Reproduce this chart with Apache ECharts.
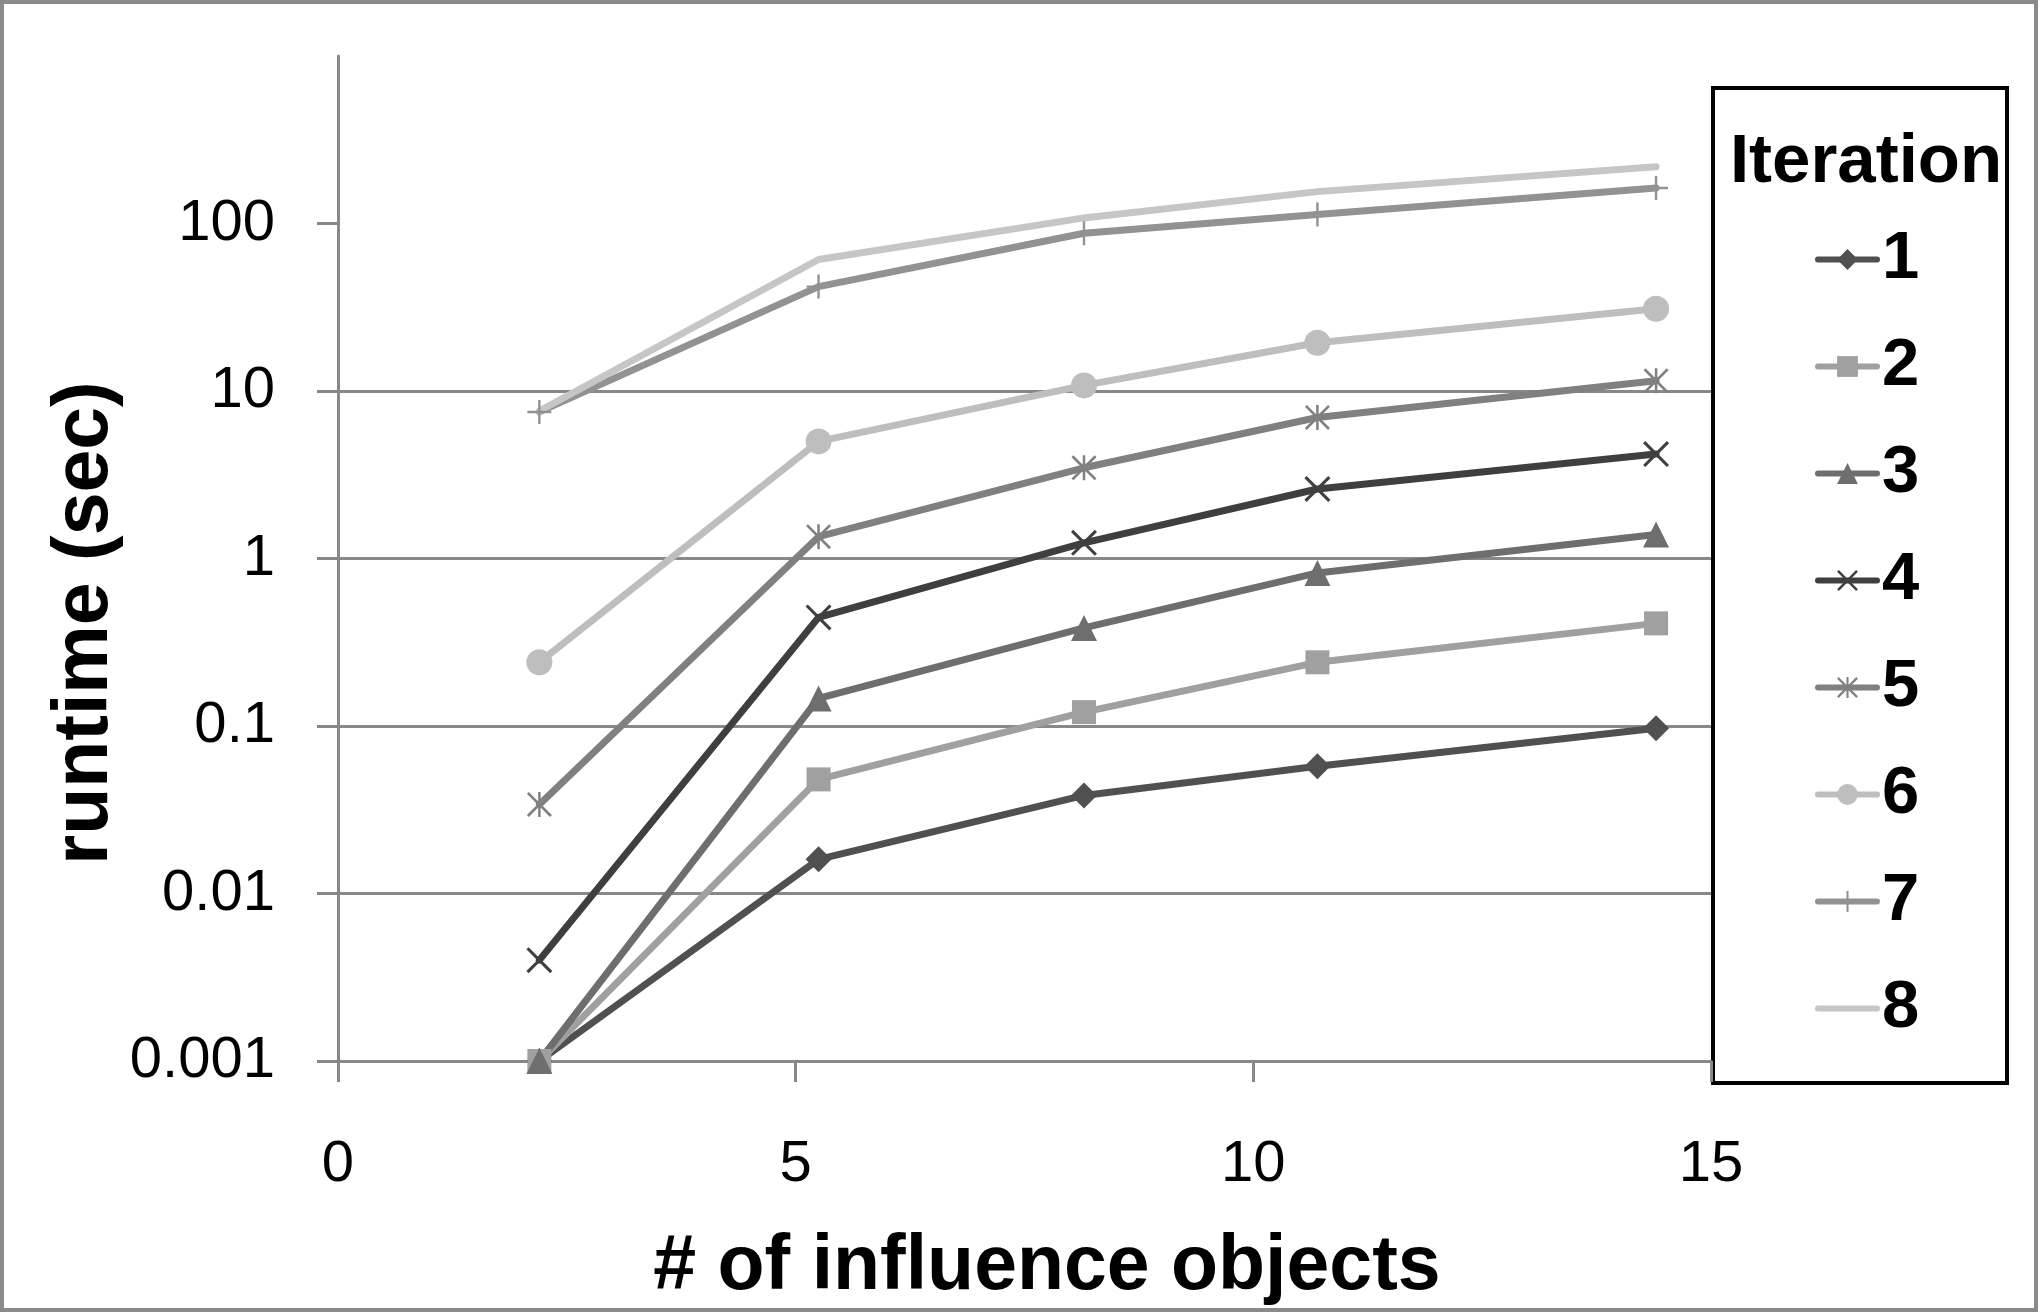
<!DOCTYPE html>
<html>
<head>
<meta charset="utf-8">
<script src="https://cdn.jsdelivr.net/npm/echarts@6/dist/echarts.min.js"></script>
<style>
html,body{margin:0;padding:0;background:#fff;}
#chart{width:2040px;height:1314px;}
</style>
</head>
<body>
<div id="chart"></div>
<script>
// ---- data ----
const xValues = [2.2, 5.25, 8.15, 10.7, 14.4];
const iter1 = [0.001, 0.016, 0.0385, 0.0575, 0.097];
const iter2 = [0.001, 0.048, 0.121, 0.24, 0.41];
const iter3 = [0.001, 0.146, 0.385, 0.82, 1.39];
const iter4 = [0.004, 0.445, 1.24, 2.6, 4.2];
const iter5 = [0.034, 1.35, 3.48, 6.95, 11.5];
const iter6 = [0.24, 5.0, 10.8, 19.4, 31];
const iter7 = [7.5, 42, 87.5, 113, 163];
const iter8 = [7.6, 61, 108, 155, 218];
const seriesNames = ['1', '2', '3', '4', '5', '6', '7', '8'];
const yTickValues = [0.001, 0.01, 0.1, 1, 10, 100];
const xTickValues = [0, 5, 10, 15];
const legendTitle = 'Iteration';
const xTitle = '# of influence objects';
const yTitle = 'runtime (sec)';

// ---- styles ----
const FONT = '"Liberation Sans", Arial, sans-serif';
const GRID_COLOR = '#888888';
const allValues = [iter1, iter2, iter3, iter4, iter5, iter6, iter7, iter8];
const colors = ['#505050', '#a0a0a0', '#6e6e6e', '#3f3f3f', '#808080', '#bebebe', '#929292', '#c6c6c6'];
const crossPath = 'path://M0,1.7 L1.7,0 L20,18.3 L18.3,20 Z M18.3,0 L20,1.7 L1.7,20 L0,18.3 Z';
const starPath = 'path://M0,1.5 L1.5,0 L20,18.5 L18.5,20 Z M18.5,0 L20,1.5 L1.5,20 L0,18.5 Z M9,0 L11,0 L11,20 L9,20 Z';
const plusPath = 'path://M9,0 L11,0 L11,20 L9,20 Z M0,9 L20,9 L20,11 L0,11 Z';
const symbols = ['diamond', 'rect', 'triangle', crossPath, starPath, 'circle', plusPath, 'circle'];
const symbolSizes = [26, 24, 26, 26, 25, 26, 24, 0];

const series = seriesNames.map((name, i) => ({
  name: name,
  type: 'line',
  data: xValues.map((x, j) => [x, allValues[i][j]]),
  symbol: symbols[i],
  symbolSize: symbolSizes[i],
  showSymbol: i !== 7,
  lineStyle: { width: 7, color: colors[i], cap: 'round', join: 'round' },
  itemStyle: { color: colors[i] },
  emphasis: { disabled: true },
  animation: false,
  z: 3
}));

const legendData = seriesNames.map((n, i) => (i === 7 ? { name: n, itemStyle: { opacity: 0 } } : { name: n }));

const chart = echarts.init(document.getElementById('chart'), null, { renderer: 'canvas' });
chart.setOption({
  backgroundColor: '#ffffff',
  animation: false,
  grid: { left: 338, right: 329, top: 56, bottom: 253, containLabel: false },
  xAxis: {
    type: 'value',
    min: 0, max: 15, interval: 5,
    axisLine: { show: true, lineStyle: { color: GRID_COLOR, width: 3 } },
    axisTick: { show: true, inside: false, length: 21, lineStyle: { color: GRID_COLOR, width: 3 } },
    splitLine: { show: false },
    axisLabel: { margin: 75, fontFamily: FONT, fontSize: 58, color: '#000' }
  },
  yAxis: {
    type: 'log',
    logBase: 10,
    min: 0.001, max: 1000,
    axisLine: { show: true, lineStyle: { color: GRID_COLOR, width: 3 } },
    axisTick: { show: true, inside: false, length: 21, customValues: yTickValues, lineStyle: { color: GRID_COLOR, width: 3 } },
    splitLine: { show: true, showMaxLine: false, lineStyle: { color: GRID_COLOR, width: 3 } },
    axisLabel: {
      margin: 63, fontFamily: FONT, fontSize: 58, color: '#000',
      customValues: yTickValues,
      formatter: v => String(Number(Number(v).toPrecision(3)))
    }
  },
  legend: {
    orient: 'vertical',
    left: 1815, top: 226,
    padding: 0,
    itemWidth: 59, itemHeight: 26,
    itemGap: 40,
    data: legendData,
    lineStyle: { width: 6 },
    textStyle: { fontFamily: FONT, fontSize: 67, fontWeight: 'bold', color: '#000', lineHeight: 67 },
    selectedMode: false
  },
  graphic: [
    { type: 'rect', shape: { x: 2, y: 2, width: 2034, height: 1308 }, style: { fill: 'none', stroke: '#8a8a8a', lineWidth: 4 }, z: 100 },
    { type: 'rect', shape: { x: 1713, y: 88, width: 294, height: 995 }, style: { fill: '#fff', stroke: '#000', lineWidth: 4 }, z: 0 },
    { type: 'text', x: 1866, y: 163, style: { text: legendTitle, font: 'bold 69px ' + FONT, fill: '#000', align: 'center', verticalAlign: 'middle' }, z: 10 },
    { type: 'text', x: 1047, y: 1268, style: { text: xTitle, font: 'bold 77px ' + FONT, fill: '#000', align: 'center', verticalAlign: 'middle' }, z: 10 },
    { type: 'text', x: 86, y: 623, rotation: Math.PI / 2, style: { text: yTitle, font: 'bold 77px ' + FONT, fill: '#000', align: 'center', verticalAlign: 'middle' }, z: 10 }
  ],
  series: series
});
</script>
</body>
</html>
